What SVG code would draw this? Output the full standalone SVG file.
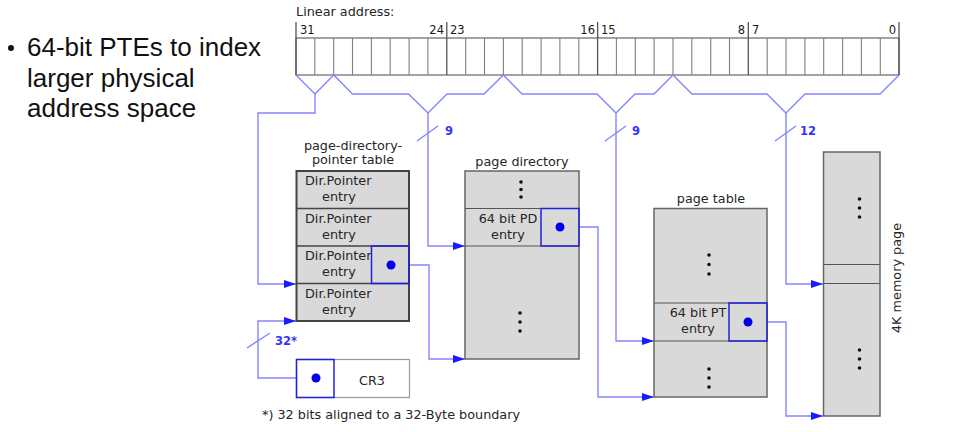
<svg xmlns="http://www.w3.org/2000/svg" width="957" height="432" viewBox="0 0 957 432">
<style>
.t{font-family:"DejaVu Sans",sans-serif;font-size:12.8px;fill:#262626}
.num{font-family:"DejaVu Sans",sans-serif;font-size:11.5px;fill:#1a1a1a}
.bl{font-family:"DejaVu Sans",sans-serif;font-size:11.5px;font-weight:bold;fill:#3333ff}
.big{font-family:"Liberation Sans",Arial,sans-serif;font-size:26px;fill:#111}
.box{fill:#d9d9d9;stroke:#666;stroke-width:1.5}
.pdpt{fill:#d9d9d9;stroke:#444;stroke-width:2}
.cell{fill:#fff;stroke:#666;stroke-width:1.2}
.sel{fill:none;stroke:#2222dd;stroke-width:1.5}
.dot{fill:#0000ee}
.kd{fill:#111}
.wire{fill:none;stroke:#8585ff;stroke-width:1.4}
.arr{fill:none;stroke:#8585ff;stroke-width:1.4;marker-end:url(#ah)}
</style>
<defs>
<marker id="ah" markerUnits="userSpaceOnUse" markerWidth="13" markerHeight="9" refX="12" refY="4" orient="auto">
<path d="M0,0 L12,4 L0,8 z" fill="#1a1aff"/>
</marker>
</defs>
<rect width="957" height="432" fill="#fff"/>

<g id="bullet">
<circle cx="11" cy="48" r="3" fill="#111"/>
<text class="big" x="27" y="56">64-bit PTEs to index</text>
<text class="big" x="27" y="87">larger physical</text>
<text class="big" x="27" y="117">address space</text>
</g>

<g id="register">
<text class="t" x="296" y="16">Linear address:</text>
<rect class="cell" x="296" y="38" width="603" height="37"/>
<path stroke="#808080" stroke-width="1.1" d="M314.8,38V75M333.7,38V75M352.5,38V75M371.4,38V75M390.2,38V75M409.1,38V75M427.9,38V75M465.7,38V75M484.5,38V75M503.4,38V75M522.2,38V75M541.1,38V75M559.9,38V75M578.8,38V75M616.4,38V75M635.3,38V75M654.1,38V75M673,38V75M691.8,38V75M710.7,38V75M729.5,38V75M767.2,38V75M786,38V75M804.9,38V75M823.7,38V75M842.6,38V75M861.4,38V75M880.3,38V75"/>
<path stroke="#555" stroke-width="1.3" d="M296,22V75M446.8,22V75M597.6,22V75M748.3,22V75M899,22V75"/>
<text class="num" x="300" y="34">31</text>
<text class="num" x="444" y="34" text-anchor="end">24</text>
<text class="num" x="450" y="34">23</text>
<text class="num" x="595" y="34" text-anchor="end">16</text>
<text class="num" x="601" y="34">15</text>
<text class="num" x="745" y="34" text-anchor="end">8</text>
<text class="num" x="752" y="34">7</text>
<text class="num" x="896" y="34" text-anchor="end">0</text>
</g>

<g id="connectors">
<path class="wire" d="M296,75 L315,94 L333.7,75"/>
<path class="arr" d="M315,94 V113 H258 V284 H296"/>
<path class="wire" d="M333.7,75 L352.5,94 H408.5 L428,113 L447,94 H484 L503.3,75"/>
<path class="arr" d="M428,113 V246 H465"/>
<path class="wire" d="M503.3,75 L522,94 H597 L616,113 L635,94 H654 L673,75"/>
<path class="arr" d="M616,113 V341 H654"/>
<path class="wire" d="M673,75 L692,94 H767 L786,113 L805,94 H880 L899,75"/>
<path class="arr" d="M786,113 V284 H823"/>
<path class="arr" d="M391,265 H429 V359 H465"/>
<path class="arr" d="M560,227 H598 V397 H654"/>
<path class="arr" d="M748,322 H786 V416 H823"/>
<path class="arr" d="M316,378 H258 V321 H296"/>
<path class="wire" d="M417,141 L438,126 M605,141 L626,126 M775,141 L796,126 M247,348 L270,333"/>
<text class="bl" x="445" y="135">9</text>
<text class="bl" x="632" y="135">9</text>
<text class="bl" x="800" y="135">12</text>
<text class="bl" x="275" y="345">32*</text>
</g>

<g id="pdpt">
<text class="t" x="353" y="150" text-anchor="middle">page-directory-</text>
<text class="t" x="353" y="164" text-anchor="middle">pointer table</text>
<rect class="pdpt" x="296.5" y="171" width="112.5" height="150"/>
<path stroke="#444" stroke-width="1.5" d="M296.5,208.5H409M296.5,246H409M296.5,283.5H409"/>
<text class="t" x="305" y="185">Dir.Pointer</text>
<text class="t" x="339" y="201" text-anchor="middle">entry</text>
<text class="t" x="305" y="223">Dir.Pointer</text>
<text class="t" x="339" y="239" text-anchor="middle">entry</text>
<text class="t" x="305" y="260">Dir.Pointer</text>
<text class="t" x="339" y="276" text-anchor="middle">entry</text>
<text class="t" x="305" y="298">Dir.Pointer</text>
<text class="t" x="339" y="314" text-anchor="middle">entry</text>
<rect class="sel" x="371.5" y="246" width="37.5" height="37.5"/>
<circle class="dot" cx="391" cy="265" r="4.5"/>
</g>

<g id="page-directory">
<text class="t" x="522" y="166" text-anchor="middle">page directory</text>
<rect class="box" x="465" y="171" width="114" height="188"/>
<path stroke="#555" stroke-width="1.2" d="M465,208.5H579M465,246H579"/>
<circle class="kd" cx="521" cy="182" r="1.8"/><circle class="kd" cx="521" cy="189.5" r="1.8"/><circle class="kd" cx="521" cy="197" r="1.8"/>
<circle class="kd" cx="520" cy="313" r="1.8"/><circle class="kd" cx="520" cy="322" r="1.8"/><circle class="kd" cx="520" cy="331" r="1.8"/>
<text class="t" x="508" y="223" text-anchor="middle">64 bit PD</text>
<text class="t" x="508" y="239" text-anchor="middle">entry</text>
<rect class="sel" x="541" y="208.5" width="38" height="37.5"/>
<circle class="dot" cx="560" cy="227" r="4.5"/>
</g>

<g id="page-table">
<text class="t" x="711" y="203" text-anchor="middle">page table</text>
<rect class="box" x="654" y="208.5" width="113" height="188.5"/>
<path stroke="#555" stroke-width="1.2" d="M654,303H767M654,341H767"/>
<circle class="kd" cx="709" cy="255" r="1.8"/><circle class="kd" cx="709" cy="264.5" r="1.8"/><circle class="kd" cx="709" cy="274" r="1.8"/>
<circle class="kd" cx="709" cy="369" r="1.8"/><circle class="kd" cx="709" cy="378" r="1.8"/><circle class="kd" cx="709" cy="387" r="1.8"/>
<text class="t" x="698" y="317" text-anchor="middle">64 bit PT</text>
<text class="t" x="698" y="333" text-anchor="middle">entry</text>
<rect class="sel" x="729" y="303" width="38" height="38"/>
<circle class="dot" cx="748" cy="322" r="4.5"/>
</g>

<g id="memory-page">
<rect class="box" x="823.5" y="152" width="56.5" height="264"/>
<path stroke="#555" stroke-width="1.2" d="M823.5,264.5H880M823.5,283.5H880"/>
<circle class="kd" cx="859.5" cy="199" r="1.8"/><circle class="kd" cx="859.5" cy="208" r="1.8"/><circle class="kd" cx="859.5" cy="217" r="1.8"/>
<circle class="kd" cx="859.5" cy="350" r="1.8"/><circle class="kd" cx="859.5" cy="359" r="1.8"/><circle class="kd" cx="859.5" cy="368" r="1.8"/>
<text class="t" x="0" y="0" text-anchor="middle" transform="translate(901,278) rotate(-90)">4K memory page</text>
</g>

<g id="cr3">
<rect x="296.5" y="359.5" width="113" height="38" fill="#fff" stroke="#999" stroke-width="1.2"/>
<rect class="sel" x="296.5" y="359.5" width="37.5" height="38"/>
<circle class="dot" cx="316" cy="378" r="4.5"/>
<text class="t" x="372" y="385" text-anchor="middle">CR3</text>
</g>

<text class="t" x="262" y="419">*) 32 bits aligned to a 32-Byte boundary</text>
</svg>
